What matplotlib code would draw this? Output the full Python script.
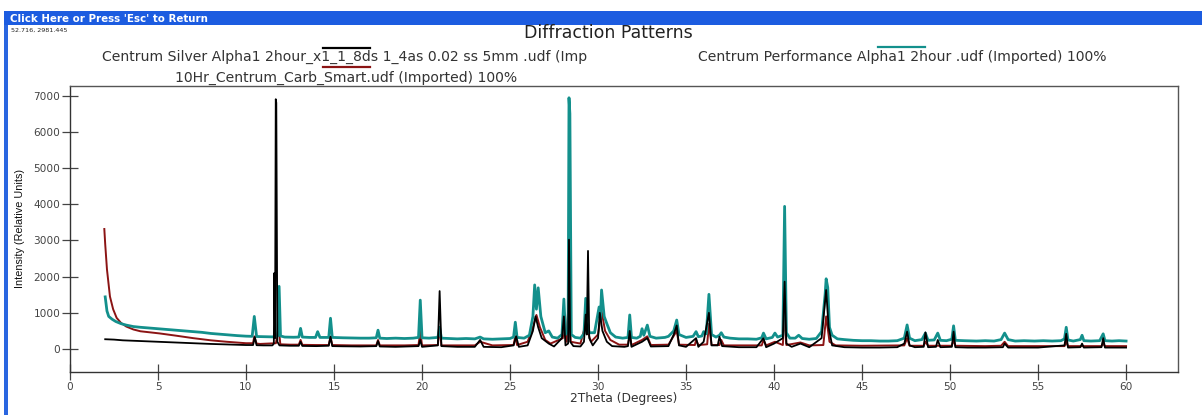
import matplotlib
matplotlib.use("Agg")
import matplotlib.pyplot as plt
from matplotlib.lines import Line2D
from matplotlib.patches import Rectangle

# ---------------- data ----------------
series_names = [
    "Centrum Silver Alpha1 2hour_x1_1_8ds 1_4as 0.02 ss 5mm .udf (Imp",
    "Centrum Performance Alpha1 2hour .udf (Imported) 100%",
    "10Hr_Centrum_Carb_Smart.udf (Imported) 100%",
]
series_colors = ["#000000", "#13908c", "#8b1414"]

# Centrum Silver (black)
silver_x = [2.0, 2.5, 3.0, 4.0, 5.0, 6.0, 7.0, 8.0, 9.0, 10.0, 10.4, 10.5, 10.6, 11.0, 11.5,
            11.58, 11.61, 11.65, 11.69, 11.72, 11.78, 11.9, 12.5, 13.0, 13.1, 13.2, 14.0, 14.7,
            14.8, 14.9, 15.5, 16.5, 17.4, 17.5, 17.6, 18.5, 19.8, 19.9, 20.0, 20.9, 21.0, 21.1,
            22.0, 23.0, 23.3, 23.5, 24.5, 25.2, 25.35, 25.5, 26.0, 26.3, 26.45, 26.6, 26.8, 27.2,
            27.5, 27.95, 28.06, 28.15, 28.3, 28.35, 28.42, 28.6, 29.0, 29.2, 29.3, 29.36, 29.43,
            29.5, 29.7, 30.0, 30.1, 30.25, 30.5, 30.8, 31.5, 31.7, 31.8, 31.9, 32.5, 32.8, 33.0,
            34.0, 34.3, 34.47, 34.6, 35.0, 35.57, 35.7, 36.0, 36.3, 36.45, 36.8, 36.9, 37.05,
            38.0, 39.0, 39.4, 39.55, 40.0, 40.5, 40.6, 40.7, 41.0, 41.5, 42.0, 42.7, 42.96, 43.1,
            43.3, 44.0, 45.0, 46.0, 47.0, 47.4, 47.56, 47.7, 48.0, 48.5, 48.6, 48.75, 49.2, 49.3,
            49.45, 50.1, 50.2, 50.3, 51.0, 52.0, 53.0, 53.1, 53.3, 54.0, 55.0, 56.5, 56.6, 56.7,
            57.4, 57.5, 57.6, 58.6, 58.7, 58.8, 60.0]
silver_y = [270, 260, 240, 220, 200, 180, 160, 140, 125, 110, 110, 330, 105, 100, 100,
            150, 2100, 300, 6900, 6800, 200, 100, 90, 90, 200, 85, 80, 90,
            340, 80, 75, 70, 80, 220, 70, 60, 80, 250, 60, 100, 1600, 80,
            60, 60, 250, 60, 50, 100, 350, 60, 100, 500, 900, 600, 300, 150,
            70, 300, 900, 100, 150, 3020, 200, 80, 70, 200, 950, 400, 2710,
            300, 100, 300, 1000, 500, 200, 80, 60, 80, 500, 60, 200, 300, 70,
            80, 400, 650, 100, 60, 300, 60, 200, 1000, 100, 100, 340, 80,
            50, 50, 300, 50, 150, 300, 1860, 150, 60, 150, 50, 300, 1630, 600,
            100, 50, 40, 40, 50, 150, 480, 100, 50, 60, 460, 50, 60, 250,
            50, 60, 480, 50, 40, 40, 50, 150, 40, 40, 40, 100, 420, 40,
            50, 150, 40, 50, 300, 40, 40]

# Centrum Performance (teal)
perf_x = [2.0, 2.1, 2.2, 2.4, 2.6, 2.9, 3.2, 3.6, 4.0, 4.5, 5.0, 5.5, 6.0, 6.5, 7.0, 7.5, 8.0,
          8.5, 9.0, 9.5, 10.0, 10.35, 10.47, 10.6, 11.0, 11.5, 11.8, 11.88, 11.96, 12.2, 12.7,
          13.0, 13.1, 13.2, 13.6, 13.95, 14.07, 14.2, 14.7, 14.8, 14.9, 15.5, 16.0, 16.5, 17.0,
          17.4, 17.5, 17.6, 18.0, 18.5, 19.0, 19.5, 19.8, 19.9, 20.0, 20.4, 20.9, 21.0, 21.1,
          21.5, 22.0, 22.5, 23.0, 23.3, 23.5, 24.0, 24.5, 25.0, 25.2, 25.3, 25.4, 25.8, 26.1,
          26.3, 26.4, 26.5, 26.6, 26.75, 27.0, 27.2, 27.4, 27.7, 27.95, 28.06, 28.15, 28.3,
          28.35, 28.4, 28.48, 28.7, 29.0, 29.2, 29.3, 29.4, 29.5, 29.8, 30.06, 30.13, 30.2,
          30.35, 30.5, 30.7, 31.0, 31.4, 31.7, 31.8, 31.9, 32.2, 32.4, 32.5, 32.6, 32.8, 32.95,
          33.3, 33.8, 34.0, 34.3, 34.47, 34.6, 35.0, 35.4, 35.57, 35.7, 35.9, 36.0, 36.15,
          36.3, 36.45, 36.7, 36.9, 37.0, 37.15, 37.5, 38.0, 38.5, 39.0, 39.3, 39.4, 39.55,
          39.9, 40.05, 40.2, 40.5, 40.6, 40.7, 40.9, 41.2, 41.4, 41.6, 42.0, 42.4, 42.7, 42.9,
          42.96, 43.05, 43.15, 43.3, 43.6, 44.0, 44.5, 45.0, 45.5, 46.0, 46.5, 47.0, 47.4,
          47.56, 47.7, 48.0, 48.4, 48.6, 48.75, 49.1, 49.3, 49.45, 49.8, 50.1, 50.2, 50.3,
          50.8, 51.5, 52.0, 52.5, 52.9, 53.1, 53.3, 53.7, 54.2, 54.8, 55.3, 55.8, 56.3, 56.5,
          56.6, 56.7, 57.0, 57.4, 57.5, 57.6, 58.0, 58.5, 58.7, 58.8, 59.2, 59.6, 60.0]
perf_y = [1440, 1050, 900, 820, 760, 700, 660, 620, 600, 580, 560, 540, 520, 500, 480, 460, 430,
          410, 390, 370, 355, 350, 900, 345, 340, 335, 360, 1730, 360, 330, 325,
          330, 570, 330, 320, 320, 480, 320, 320, 850, 320, 310, 305, 300, 300,
          310, 520, 300, 290, 300, 290, 300, 320, 1350, 310, 300, 320, 600, 300,
          290, 280, 290, 280, 330, 280, 270, 280, 290, 330, 740, 320, 300, 380,
          900, 1770, 1100, 1690, 900, 450, 500, 330, 300, 400, 1380, 400, 500,
          6940, 6500, 400, 320, 300, 420, 1400, 700, 450, 450, 1160, 800, 1630,
          900, 700, 450, 330, 300, 320, 940, 320, 300, 350, 560, 380, 660, 350,
          300, 320, 350, 500, 800, 400, 320, 350, 480, 340, 360, 480, 420,
          1510, 400, 330, 380, 450, 330, 300, 280, 280, 270, 310, 440, 280,
          320, 440, 330, 380, 3940, 450, 300, 300, 380, 290, 270, 290, 480, 1500,
          1940, 1700, 600, 380, 280, 260, 240, 230, 230, 220, 220, 230, 300,
          665, 300, 230, 260, 440, 240, 250, 440, 240, 230, 270, 640, 240,
          230, 220, 230, 220, 260, 440, 260, 220, 230, 220, 230, 220, 230, 280,
          600, 250, 220, 260, 380, 230, 220, 230, 420, 230, 220, 230, 220]

# 10Hr Centrum Carb Smart (dark red)
carb_x = [1.95, 2.0, 2.1, 2.27, 2.45, 2.65, 2.9, 3.2, 3.6, 4.0, 5.1, 6.0, 7.0, 8.0, 8.9, 10.0,
          10.4, 10.47, 10.6, 10.8, 11.7, 11.85, 11.95, 12.5, 13.0, 13.1, 13.2, 14.0, 14.7, 14.8,
          14.9, 16.0, 17.4, 17.5, 17.6, 19.0, 19.8, 19.9, 20.0, 20.9, 21.0, 21.1, 22.0, 23.0,
          23.3, 24.0, 25.2, 25.3, 25.4, 26.0, 26.3, 26.5, 26.7, 27.0, 27.3, 28.0, 28.06, 28.2,
          28.35, 28.45, 29.0, 29.3, 29.4, 29.6, 30.0, 30.2, 30.4, 30.7, 31.2, 31.7, 31.8, 31.9,
          32.5, 32.8, 33.0, 34.0, 34.47, 34.6, 35.5, 35.57, 35.7, 36.2, 36.3, 36.45, 36.9,
          37.0, 37.15, 38.5, 39.3, 39.4, 39.55, 40.05, 40.5, 40.6, 40.7, 41.5, 42.0, 42.8,
          42.96, 43.15, 43.5, 45.0, 47.4, 47.56, 47.7, 48.5, 48.6, 48.75, 50.1, 50.2, 50.3,
          52.0, 52.9, 53.1, 53.3, 55.0, 56.5, 56.6, 56.7, 58.6, 58.7, 58.8, 60.0]
carb_y = [3315, 2900, 2200, 1450, 1100, 860, 720, 620, 540, 490, 430, 370, 300, 240, 200, 160,
          160, 350, 150, 140, 160, 620, 130, 120, 120, 250, 115, 110, 110, 340,
          110, 100, 100, 250, 100, 100, 110, 500, 100, 110, 600, 100, 100, 100,
          200, 100, 110, 350, 110, 200, 600, 940, 600, 250, 150, 300, 600, 200,
          1500, 200, 150, 700, 500, 200, 400, 1050, 500, 250, 120, 120, 400, 110,
          250, 350, 110, 120, 500, 120, 110, 250, 110, 130, 700, 110, 110,
          250, 100, 100, 100, 250, 100, 200, 110, 1000, 110, 180, 100, 110,
          900, 200, 100, 90, 100, 300, 90, 90, 200, 90, 90, 250, 90,
          80, 90, 200, 80, 80, 80, 200, 80, 80, 150, 80, 80]

x_ticks = list(range(0, 61, 5))
y_ticks = list(range(0, 7001, 1000))

# ---------------- figure ----------------
W, H = 1202, 415
fig = plt.figure(figsize=(W / 100, H / 100), dpi=100)
fig.patch.set_facecolor("white")


def fx(px):
    return px / W


def fy(py):
    return 1 - py / H


# window chrome: blue bar and left stripe
fig.patches.append(Rectangle((fx(4), fy(25)), 1 - fx(4), 13.5 / H, transform=fig.transFigure,
                             facecolor="#1c5ce0", edgecolor="none", zorder=0))
fig.patches.append(Rectangle((fx(4), 0), 3.5 / W, fy(25), transform=fig.transFigure,
                             facecolor="#2a66e0", edgecolor="none", zorder=0))
fig.text(fx(10), fy(18.5), "Click Here or Press 'Esc' to Return", color="white",
         fontsize=7.4, fontweight="bold", family="DejaVu Sans", va="center", ha="left")
fig.text(fx(11), fy(30.5), "52.716, 2981.445", color="#222222", fontsize=4.6,
         family="DejaVu Sans", va="center", ha="left")

# title
fig.text(fx(608), fy(33), "Diffraction Patterns", fontsize=12.5, family="DejaVu Sans",
         color="#222222", ha="center", va="center")

# axes
ax = fig.add_axes([fx(70), fy(372), fx(1178) - fx(70), fy(86) - fy(372)])
ax.plot(carb_x, carb_y, color=series_colors[2], lw=1.4, zorder=2)
ax.plot(perf_x, perf_y, color=series_colors[1], lw=2.0, zorder=3)
ax.plot(silver_x, silver_y, color=series_colors[0], lw=1.3, zorder=4)

ax.set_xlim(0, 62.95)
ax.set_ylim(-635, 7265)
ax.set_xticks(x_ticks)
ax.set_yticks(y_ticks)
ax.tick_params(axis="both", direction="inout", length=11, width=0.9, colors="#444444",
               labelsize=7.6, labelcolor="#444444", pad=1.5)
for lab in ax.get_xticklabels() + ax.get_yticklabels():
    lab.set_family("DejaVu Sans")
for side in ["left", "bottom"]:
    ax.spines[side].set_color("#333333")
    ax.spines[side].set_linewidth(1.0)
for side in ["top", "right"]:
    ax.spines[side].set_color("#555555")
    ax.spines[side].set_linewidth(1.0)

ax.set_xlabel("2Theta (Degrees)", fontsize=8.8, family="DejaVu Sans", color="#333333",
              labelpad=0.5)
ax.set_ylabel("Intensity (Relative Units)", fontsize=7.8,
              family=["Liberation Sans", "DejaVu Sans"], color="#111111", labelpad=6)

# legend (manual layout as in the original software)
legend_layout = [
    (0, 102, 57, 323, 370, 48),
    (1, 698, 57, 878, 925, 47),
    (2, 175, 78, 323, 370, 67),
]
for idx, tx, ty, lx0, lx1, ly in legend_layout:
    fig.text(fx(tx), fy(ty), series_names[idx], fontsize=10.1, family="DejaVu Sans",
             color="#333333", ha="left", va="center")
    fig.add_artist(Line2D([fx(lx0), fx(lx1)], [fy(ly), fy(ly)], transform=fig.transFigure,
                          color=series_colors[idx], lw=1.6))

fig.savefig("out.png", dpi=100)
